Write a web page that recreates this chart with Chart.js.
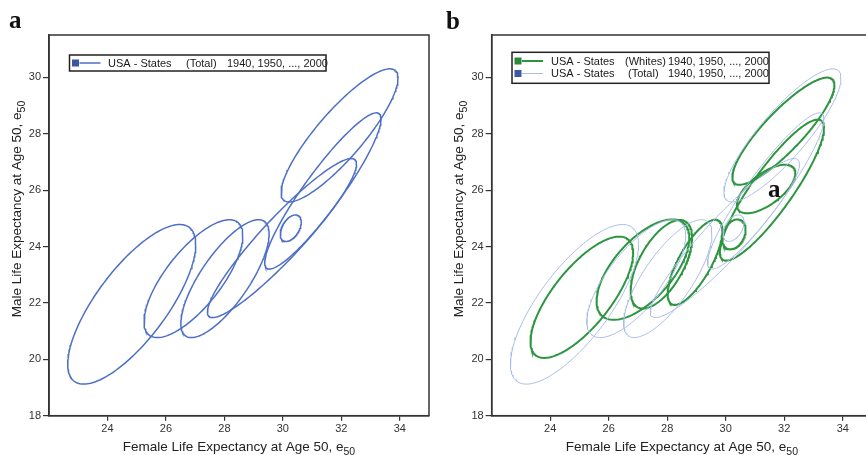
<!DOCTYPE html>
<html>
<head>
<meta charset="utf-8">
<title>Life expectancy at age 50, US states</title>
<script src="https://cdn.jsdelivr.net/npm/chart.js@4.4.1/dist/chart.umd.min.js"></script>
<style>
  html, body { margin: 0; padding: 0; background: #fff; overflow: hidden; }
  #wrap { position: relative; width: 866px; height: 455px; overflow: hidden; }
  canvas { position: absolute; top: 0; }
  #chartA { left: 0; }
  #chartB { left: 433px; }
</style>
</head>
<body>
<div id="wrap">
  <canvas id="chartA" width="433" height="455"></canvas>
  <canvas id="chartB" width="443" height="455"></canvas>
</div>
<script>
// Axis ticks
const xTicks = [24, 26, 28, 30, 32, 34];
const yTicks = [18, 20, 22, 24, 26, 28, 30];

// State dispersion ellipses, total population (centre, half-spread, correlation)
const totalCx = [24.83, 26.94, 28.02, 29.97, 30.27, 31.37, 31.94];
const totalCy = [21.95, 22.86, 22.86, 24.30, 24.65, 25.97, 27.94];
const totalSx = [2.19, 1.69, 1.51, 2.55, 0.36, 1.99, 2.00];
const totalSy = [2.83, 2.09, 2.09, 2.82, 0.47, 2.77, 2.36];
const totalRho = [0.75, 0.73, 0.76, 0.93, 0.45, 0.92, 0.86];

// Same for the white population
const whitesCx = [25.08, 27.17, 27.80, 28.95, 30.28, 31.38, 31.58, 31.97];
const whitesCy = [22.20, 23.18, 23.37, 23.44, 24.43, 26.04, 26.00, 28.09];
const whitesSx = [1.755, 1.585, 1.05, 0.935, 0.40, 1.00, 1.78, 1.745];
const whitesSy = [2.15, 1.78, 1.57, 1.51, 0.53, 0.86, 2.50, 1.90];
const whitesRho = [0.73, 0.63, 0.60, 0.74, 0.30, 0.65, 0.88, 0.86];

const FONT = "'Liberation Sans', Arial, Helvetica, sans-serif";
const SERIF = "'Liberation Serif', 'Times New Roman', serif";

// outline of one ellipse as x/y points
function ellipsePoints(cx, cy, sx, sy, rho) {
    const pts = [];
    const k = Math.sqrt(1 - rho * rho);
    const n = 180;
    for (let i = 0; i <= n; i++) {
        const t = i / n * 2 * Math.PI;
        pts.push({
            x: cx + sx * Math.cos(t),
            y: cy + sy * (rho * Math.cos(t) + k * Math.sin(t))
        });
    }
    return pts;
}

function ellipseSets(cx, cy, sx, sy, rho, color, width) {
    return cx.map((_, i) => ({
        data: ellipsePoints(cx[i], cy[i], sx[i], sy[i], rho[i]),
        showLine: true,
        borderColor: color,
        borderWidth: width,
        pointRadius: 0,
        fill: false,
        tension: 0
    }));
}

// text with a subscript tail, centred on (x, y)
function subText(ctx, main, sub, x, y, size) {
    ctx.font = size + 'px ' + FONT;
    const w1 = ctx.measureText(main).width;
    ctx.font = (size - 3) + 'px ' + FONT;
    const w2 = ctx.measureText(sub).width;
    const start = x - (w1 + w2) / 2;
    ctx.textAlign = 'left';
    ctx.textBaseline = 'alphabetic';
    ctx.font = size + 'px ' + FONT;
    ctx.fillText(main, start, y);
    ctx.font = (size - 3) + 'px ' + FONT;
    ctx.fillText(sub, start + w1, y + 4);
}

function drawLegend(ctx, box, rows) {
    ctx.save();
    ctx.fillStyle = '#fff';
    ctx.fillRect(box.x, box.y, box.w, box.h);
    ctx.strokeStyle = '#222';
    ctx.lineWidth = 1.5;
    ctx.strokeRect(box.x, box.y, box.w, box.h);
    ctx.font = '11px ' + FONT;
    ctx.textBaseline = 'middle';
    ctx.textAlign = 'left';
    rows.forEach(r => {
        ctx.strokeStyle = r.line;
        ctx.lineWidth = r.lineWidth;
        ctx.beginPath();
        ctx.moveTo(box.x + 10, r.y);
        ctx.lineTo(box.x + 31, r.y);
        ctx.stroke();
        ctx.fillStyle = r.square;
        ctx.fillRect(box.x + 2.5, r.y - 3.5, 7, 7);
        ctx.fillStyle = '#1a1a1a';
        r.texts.forEach(t => ctx.fillText(t[0], t[1], r.y + 0.5));
    });
    ctx.restore();
}

// frame, axis titles, legend and panel letters
function decor(cfg) {
    return {
        id: 'decor',
        afterDraw(chart) {
            const ctx = chart.ctx;
            const a = chart.chartArea;
            ctx.save();
            ctx.strokeStyle = '#333';
            ctx.lineWidth = 1.5;
            ctx.strokeRect(a.left, a.top, a.right - a.left, a.bottom - a.top);

            ctx.fillStyle = '#222';
            subText(ctx, 'Female Life Expectancy at Age 50, e', '50', (a.left + a.right) / 2, 451, 13.5);
            ctx.save();
            ctx.translate(cfg.yTitleX, 209);
            ctx.rotate(-Math.PI / 2);
            subText(ctx, 'Male Life Expectancy at Age 50, e', '50', 0, 0, 13.5);
            ctx.restore();

            drawLegend(ctx, cfg.legendBox, cfg.legendRows);

            ctx.fillStyle = '#111';
            ctx.font = 'bold 25px ' + SERIF;
            ctx.textAlign = 'left';
            ctx.textBaseline = 'alphabetic';
            cfg.letters.forEach(l => ctx.fillText(l[0], l[1], l[2]));
            ctx.restore();
        }
    };
}

function makeOptions(yWidth) {
    const tickFont = { family: FONT, size: 11 };
    return {
        responsive: false,
        devicePixelRatio: 1,
        animation: false,
        events: [],
        layout: { padding: { left: 0, top: 35, right: 4, bottom: 0 } },
        plugins: { legend: { display: false }, tooltip: { enabled: false } },
        scales: {
            x: {
                type: 'linear',
                min: 22, max: 35,
                afterBuildTicks: s => { s.ticks = xTicks.map(v => ({ value: v })); },
                afterFit: s => { s.height = 39.3; },
                ticks: { font: tickFont, color: '#333', padding: 2, maxRotation: 0 },
                grid: { drawOnChartArea: false, drawTicks: true, tickLength: 5, color: '#333', lineWidth: 1.2 },
                border: { display: true, color: '#333', width: 1.5 }
            },
            y: {
                type: 'linear',
                min: 18, max: 31.5,
                afterBuildTicks: s => { s.ticks = yTicks.map(v => ({ value: v })); },
                afterFit: s => { s.width = yWidth; },
                ticks: { font: tickFont, color: '#333', padding: 2 },
                grid: { drawOnChartArea: false, drawTicks: true, tickLength: 6, color: '#333', lineWidth: 1.2 },
                border: { display: true, color: '#333', width: 1.5 }
            }
        }
    };
}

// panel a: total population
new Chart(document.getElementById('chartA').getContext('2d'), {
    type: 'scatter',
    data: { datasets: ellipseSets(totalCx, totalCy, totalSx, totalSy, totalRho, '#4d6fc6', 1.5) },
    options: makeOptions(49),
    plugins: [decor({
        yTitleX: 21,
        legendBox: { x: 69.5, y: 55, w: 256.5, h: 16 },
        legendRows: [
            { y: 63, square: '#3b57a6', line: '#4d6fc6', lineWidth: 1.5,
              texts: [['USA - States', 108], ['(Total)', 186], ['1940, 1950, ..., 2000', 227]] }
        ],
        letters: [['a', 9, 28]]
    })]
});

// panel b: whites over total
new Chart(document.getElementById('chartB').getContext('2d'), {
    type: 'scatter',
    data: {
        datasets: ellipseSets(totalCx, totalCy, totalSx, totalSy, totalRho, '#aabde6', 1)
            .concat(ellipseSets(whitesCx, whitesCy, whitesSx, whitesSy, whitesRho, '#2c9540', 2))
    },
    options: makeOptions(58.7),
    plugins: [decor({
        yTitleX: 30,
        legendBox: { x: 79, y: 52.3, w: 257, h: 31 },
        legendRows: [
            { y: 61, square: '#2a8a3c', line: '#2c9540', lineWidth: 2,
              texts: [['USA - States', 118], ['(Whites)', 192], ['1940, 1950, ..., 2000', 235]] },
            { y: 73.5, square: '#3b57a6', line: '#aabde6', lineWidth: 1,
              texts: [['USA - States', 118], ['(Total)', 195], ['1940, 1950, ..., 2000', 235]] }
        ],
        letters: [['b', 13, 29], ['a', 335, 197]]
    })]
});
</script>
</body>
</html>
